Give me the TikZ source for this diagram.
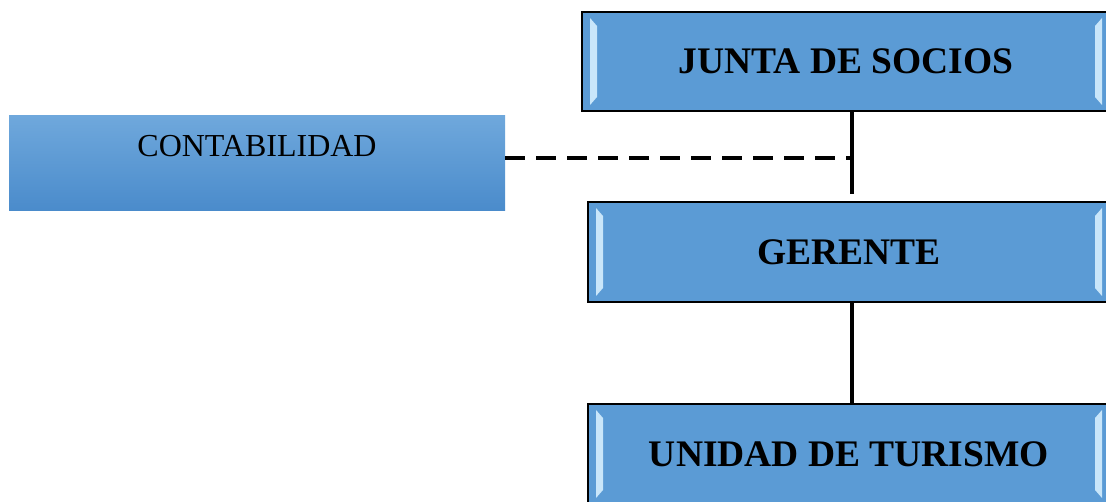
\documentclass[tikz,border=0pt]{standalone}
\usepackage{fontspec}
\setmainfont{Liberation Serif}
\usetikzlibrary{positioning}
\definecolor{cielo}{HTML}{5B9BD5}
\definecolor{cieloclaro}{HTML}{6FA8DC}
\definecolor{cielooscuro}{HTML}{4A8BCB}
\definecolor{brillo}{HTML}{C9E6FA}
\tikzset{
  cargo/.style={rectangle, draw=black, line width=1.5pt, fill=cielo, minimum height=99pt,
                font=\fontsize{37.5}{40}\selectfont\bfseries, inner sep=0pt,
                path picture={
                  \fill[brillo] ([shift={(8pt,-6pt)}]path picture bounding box.north west)
                    -- ([shift={(15pt,-14pt)}]path picture bounding box.north west)
                    -- ([shift={(15pt,14pt)}]path picture bounding box.south west)
                    -- ([shift={(8pt,6pt)}]path picture bounding box.south west) -- cycle;
                  \fill[brillo] ([shift={(-8pt,-6pt)}]path picture bounding box.north east)
                    -- ([shift={(-15pt,-14pt)}]path picture bounding box.north east)
                    -- ([shift={(-15pt,14pt)}]path picture bounding box.south east)
                    -- ([shift={(-8pt,6pt)}]path picture bounding box.south east) -- cycle;
                }},
  apoyo/.style={rectangle, top color=cieloclaro, bottom color=cielooscuro, draw=none,
                minimum width=496pt, minimum height=95pt, inner sep=0pt},
  linea/.style={draw=black, line width=4pt},
  asesoria/.style={draw=black, line width=4pt, dash pattern=on 20pt off 11pt}
}
\begin{document}
\begin{tikzpicture}[x=1pt, y=1pt]
  \useasboundingbox (0,0) rectangle (1106,-502);
  \node[cargo, minimum width=528pt] (junta) at (846,-61.5) {JUNTA DE SOCIOS};
  \node[cargo, minimum width=522pt, minimum height=100pt] (gerente) at (849,-252) {GERENTE};
  \node[cargo, minimum width=522pt, minimum height=100pt] (unidad) at (849,-454) {UNIDAD DE TURISMO};
  \node[apoyo] (conta) at (257,-163.5) {};
  \node[font=\fontsize{32}{34}\selectfont, below=19pt of conta.north, inner sep=0pt] (contatxt) {CONTABILIDAD};
  \coordinate (enlace) at (852,-158);
  \draw[linea] (junta.south -| enlace) -- ([yshift=7pt]gerente.north -| enlace);
  \draw[linea] (gerente.south -| enlace) -- (unidad.north -| enlace);
  \draw[asesoria] (conta.east |- enlace) -- (enlace);
\end{tikzpicture}
\end{document}
